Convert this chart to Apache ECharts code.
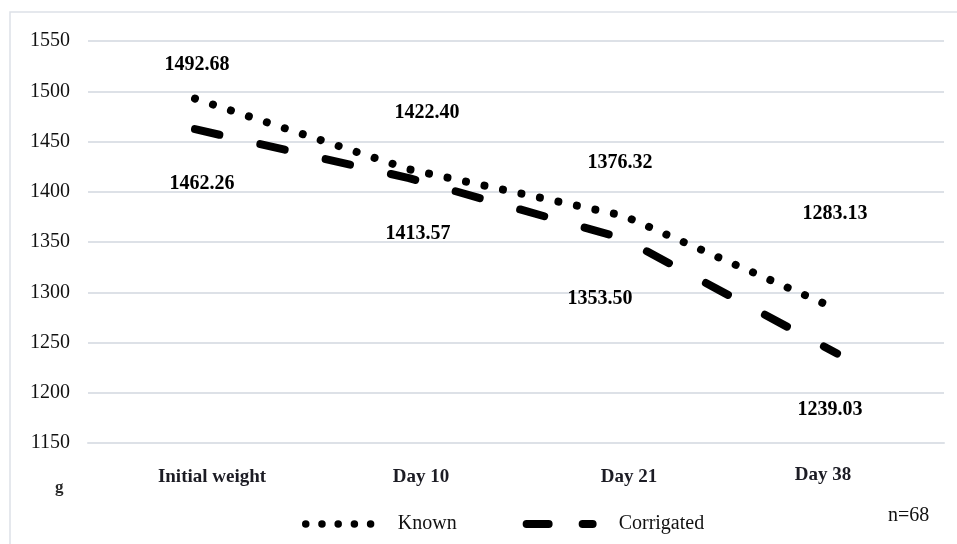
<!DOCTYPE html>
<html>
<head>
<meta charset="utf-8">
<script src="https://cdn.jsdelivr.net/npm/echarts@6/dist/echarts.min.js"></script>
<style>
  html, body { margin: 0; padding: 0; background: #fff; }
  #chart { width: 957px; height: 544px; }
</style>
</head>
<body>
<div id="chart"></div>
<script>
// Body weight over the trial (g), two groups
const categories = ['Initial weight', 'Day 10', 'Day 21', 'Day 38'];
const knownValues = [1492.68, 1422.40, 1376.32, 1283.13];
const corrigatedValues = [1462.26, 1413.57, 1353.50, 1239.03];
const yTicks = { min: 1150, max: 1550, step: 50 };

// Hand-placed label nudges (px) relative to each point
const knownLabelOffsets = [[2, -34], [18, -56], [-3, -53], [-2, -95]];
const corrigatedLabelOffsets = [[7, 55], [9, 56], [-23, 60], [-7, 56]];
// Category label nudges (px): [dx, dy]
const catLabelShift = [[17, 2], [12, 2], [6, 2], [-14, -3]];

const serif = '"Liberation Serif", "DejaVu Serif", serif';

function withLabels(values, offsets) {
  return values.map((v, i) => ({
    value: v,
    label: { offset: offsets[i] }
  }));
}

const rich = {};
catLabelShift.forEach((s, i) => {
  const dx = s[0], dy = s[1];
  rich['c' + i] = {
    fontFamily: serif,
    fontSize: 19,
    fontWeight: 'bold',
    color: '#1c1c24',
    padding: [Math.max(dy, 0) + 3, dx < 0 ? -2 * dx : 0, 0, dx > 0 ? 2 * dx : 0]
  };
});

const chart = echarts.init(document.getElementById('chart'), null, { renderer: 'canvas' });

chart.setOption({
  backgroundColor: '#ffffff',
  animation: false,
  graphic: [
    {
      type: 'rect',
      shape: { x: 10, y: 12, width: 980, height: 560 },
      style: { fill: 'none', stroke: '#dde1e7', lineWidth: 1.5 },
      silent: true
    },
    {
      type: 'text',
      left: 55, top: 479,
      style: { text: 'g', font: 'bold 17px ' + serif, fill: '#2a2a2a' }
    },
    {
      type: 'text',
      left: 888, top: 506,
      style: { text: 'n=68', font: '20px ' + serif, fill: '#111' }
    }
  ],
  grid: { left: 88, right: 13, top: 41, bottom: 101, containLabel: false },
  legend: {
    left: 302,
    top: 514,
    padding: 0,
    itemWidth: 66,
    itemHeight: 14,
    itemGap: 66,
    itemStyle: { opacity: 0 },
    textStyle: {
      fontFamily: serif,
      fontSize: 20,
      color: '#111',
      padding: [0, 0, 0, 21]
    },
    data: [
      {
        name: 'Known',
        lineStyle: { width: 7.5, type: [0.01, 16.2], cap: 'round', color: '#000' }
      },
      {
        name: 'Corrigated',
        lineStyle: { width: 8, type: [22, 34], cap: 'round', color: '#000' }
      }
    ]
  },
  xAxis: {
    type: 'category',
    data: categories,
    boundaryGap: true,
    axisLine: { show: true, lineStyle: { color: '#dde1e7', width: 2 } },
    axisTick: { show: false },
    axisLabel: {
      margin: 20,
      interval: 0,
      formatter: (v, i) => '{c' + i + '|' + v + '}',
      rich: rich
    },
    splitLine: { show: false }
  },
  yAxis: {
    type: 'value',
    min: yTicks.min,
    max: yTicks.max,
    interval: yTicks.step,
    axisLine: { show: false },
    axisTick: { show: false },
    axisLabel: {
      margin: 18,
      fontFamily: serif,
      fontSize: 20,
      color: '#111',
      formatter: v => String(v)
    },
    splitLine: { show: true, lineStyle: { color: '#dde1e7', width: 2 } }
  },
  series: [
    {
      name: 'Known',
      type: 'line',
      data: withLabels(knownValues, knownLabelOffsets),
      symbol: 'circle',
      symbolSize: 2,
      itemStyle: { color: 'rgba(0,0,0,0)' },
      lineStyle: { color: '#000', width: 8, type: [0.01, 18.9], cap: 'round' },
      label: {
        show: true,
        position: 'inside',
        fontFamily: serif,
        fontSize: 20,
        fontWeight: 'bold',
        color: '#000',
        formatter: p => p.value.toFixed(2)
      },
      z: 3
    },
    {
      name: 'Corrigated',
      type: 'line',
      data: withLabels(corrigatedValues, corrigatedLabelOffsets),
      symbol: 'circle',
      symbolSize: 2,
      itemStyle: { color: 'rgba(0,0,0,0)' },
      lineStyle: { color: '#000', width: 8, type: [25, 42], cap: 'round' },
      label: {
        show: true,
        position: 'inside',
        fontFamily: serif,
        fontSize: 20,
        fontWeight: 'bold',
        color: '#000',
        formatter: p => p.value.toFixed(2)
      },
      z: 2
    }
  ]
});
</script>
</body>
</html>
